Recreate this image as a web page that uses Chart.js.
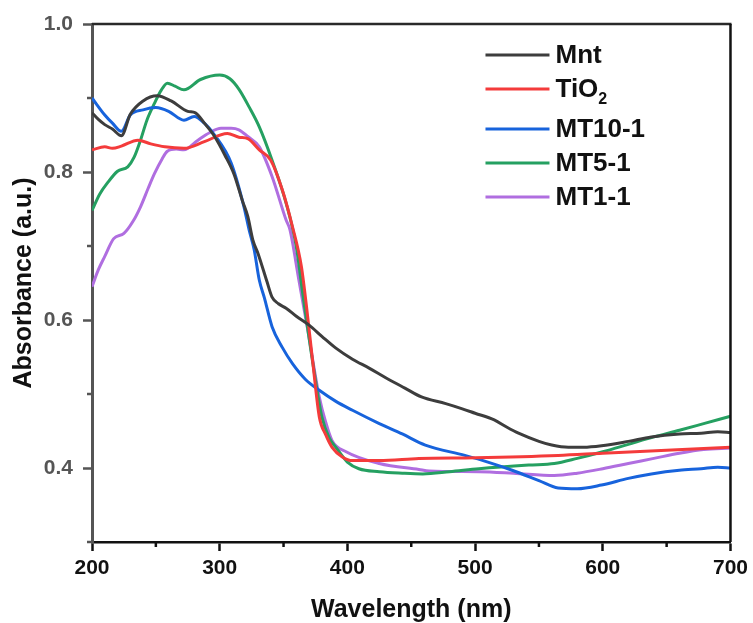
<!DOCTYPE html>
<html>
<head>
<meta charset="utf-8">
<script src="https://cdn.jsdelivr.net/npm/chart.js@4.4.1/dist/chart.umd.min.js"></script>
<style>
  html,body{margin:0;padding:0;background:#fff;}
  #wrap{width:753px;height:623px;}
</style>
</head>
<body>
<div id="wrap"><canvas id="uvChart" width="753" height="623"></canvas></div>
<script>
// ----------------- data -----------------
const seriesNames = ['Mnt', 'TiO₂', 'MT10-1', 'MT5-1', 'MT1-1'];
const seriesColors = ['#3d3d3d', '#f43b3b', '#1763dc', '#25a061', '#b06ee0'];

const xTicks = [200, 300, 400, 500, 600, 700];
const yTicks = [0.4, 0.6, 0.8, 1.0];
const xMinor = [250, 350, 450, 550, 650];
const yMinor = [0.3, 0.5, 0.7, 0.9];

const mntX = [200, 205, 210, 216, 223, 230, 240, 251, 262, 275, 281, 288, 296, 304, 311, 318, 322, 326, 330, 337, 341, 346, 352, 360, 370, 380, 391, 404, 417, 430, 445, 458, 477, 490, 500, 515, 525, 534, 550, 560, 573, 585, 599, 620, 638, 660, 677, 690, 700];
const mntY = [0.880, 0.871, 0.864, 0.858, 0.849, 0.878, 0.896, 0.903, 0.896, 0.882, 0.880, 0.866, 0.848, 0.823, 0.798, 0.760, 0.740, 0.708, 0.690, 0.652, 0.631, 0.622, 0.616, 0.605, 0.593, 0.578, 0.562, 0.547, 0.535, 0.522, 0.508, 0.496, 0.487, 0.480, 0.474, 0.465, 0.455, 0.447, 0.436, 0.431, 0.428, 0.428, 0.430, 0.436, 0.442, 0.446, 0.447, 0.449, 0.448];

const tioX = [200, 210, 216, 223, 236, 246, 257, 272, 288, 306, 315, 322, 331, 340, 349, 357, 364, 368, 373, 378, 383, 388, 396, 404, 425, 456, 500, 565, 600, 700];
const tioY = [0.830, 0.834, 0.832, 0.835, 0.843, 0.838, 0.834, 0.832, 0.841, 0.852, 0.847, 0.845, 0.830, 0.816, 0.776, 0.726, 0.672, 0.618, 0.541, 0.469, 0.445, 0.428, 0.415, 0.410, 0.410, 0.413, 0.414, 0.417, 0.420, 0.428];

const mt10X = [200, 210, 216, 223, 230, 240, 250, 260, 272, 280, 288, 296, 309, 319, 323, 327, 331, 335, 341, 349, 357, 367, 378, 391, 404, 425, 443, 461, 492, 510, 529, 550, 565, 580, 599, 620, 638, 660, 677, 690, 700];
const mt10Y = [0.900, 0.877, 0.866, 0.855, 0.877, 0.884, 0.887, 0.882, 0.870, 0.875, 0.866, 0.850, 0.812, 0.753, 0.722, 0.695, 0.654, 0.630, 0.591, 0.563, 0.541, 0.520, 0.505, 0.490, 0.478, 0.460, 0.446, 0.431, 0.417, 0.408, 0.397, 0.383, 0.373, 0.372, 0.377, 0.386, 0.392, 0.397, 0.399, 0.401, 0.400];

const mt5X = [200, 206, 212, 220, 228, 233, 238, 243, 249, 254, 259, 265, 272, 285, 300, 308, 315, 323, 331, 341, 352, 360, 365, 373, 380, 386, 391, 400, 409, 425, 443, 459, 480, 503, 542, 562, 580, 600, 620, 640, 660, 679, 700];
const mt5Y = [0.748, 0.770, 0.785, 0.801, 0.807, 0.820, 0.843, 0.870, 0.893, 0.910, 0.920, 0.916, 0.911, 0.925, 0.931, 0.926, 0.912, 0.888, 0.861, 0.816, 0.758, 0.699, 0.636, 0.541, 0.469, 0.440, 0.428, 0.408, 0.399, 0.395, 0.393, 0.392, 0.395, 0.399, 0.404, 0.406, 0.413, 0.422, 0.432, 0.442, 0.451, 0.460, 0.470];

const mt1X = [200, 205, 210, 217, 225, 232, 238, 244, 249, 255, 259, 266, 272, 283, 292, 301, 309, 315, 322, 331, 341, 352, 355, 362, 369, 378, 383, 388, 399, 425, 456, 464, 503, 530, 562, 580, 600, 620, 640, 660, 679, 700];
const mt1Y = [0.645, 0.668, 0.686, 0.710, 0.717, 0.733, 0.753, 0.778, 0.798, 0.818, 0.828, 0.831, 0.830, 0.843, 0.853, 0.859, 0.859, 0.857, 0.848, 0.834, 0.794, 0.735, 0.722, 0.654, 0.586, 0.496, 0.462, 0.437, 0.422, 0.406, 0.398, 0.396, 0.395, 0.393, 0.390, 0.393, 0.399, 0.406, 0.413, 0.420, 0.425, 0.427];

const allX = [mntX, tioX, mt10X, mt5X, mt1X];
const allY = [mntY, tioY, mt10Y, mt5Y, mt1Y];

const FONT = "'Liberation Sans', Arial, Helvetica, sans-serif";

function pairUp(xs, ys) {
  return xs.map((x, i) => ({x: x, y: ys[i]}));
}

// ----------------- plugins -----------------
// frame (top / right) + minor ticks
const framePlugin = {
  id: 'frame',
  afterDraw(chart) {
    const c = chart.ctx, a = chart.chartArea;
    const xs = chart.scales.x, ys = chart.scales.y;
    c.save();
    c.lineCap = 'butt';
    c.lineWidth = 2.5;
    c.strokeStyle = '#2a2a2a';
    c.beginPath();
    c.moveTo(a.left, a.top);
    c.lineTo(a.right + 1, a.top);
    c.stroke();
    c.strokeStyle = '#111';
    c.beginPath();
    c.moveTo(a.right, a.top);
    c.lineTo(a.right, a.bottom);
    c.stroke();

    c.lineWidth = 2.5;
    c.strokeStyle = '#111';
    xMinor.forEach(v => {
      const p = xs.getPixelForValue(v);
      c.beginPath();
      c.moveTo(p, a.bottom);
      c.lineTo(p, a.bottom + 5);
      c.stroke();
    });
    c.strokeStyle = '#555';
    yMinor.forEach(v => {
      const p = ys.getPixelForValue(v);
      c.beginPath();
      c.moveTo(a.left - 5, p);
      c.lineTo(a.left, p);
      c.stroke();
    });
    c.restore();
  }
};

// legend in the upper right of the plot
const legendPlugin = {
  id: 'innerLegend',
  afterDraw(chart) {
    const c = chart.ctx, a = chart.chartArea;
    const x0 = a.right - 245, x1 = a.right - 181, tx = a.right - 175;
    let y = a.top + 31;
    c.save();
    chart.data.datasets.forEach((ds, i) => {
      c.strokeStyle = ds.borderColor;
      c.lineWidth = 3.2;
      c.beginPath();
      c.moveTo(x0, y);
      c.lineTo(x1, y);
      c.stroke();

      c.fillStyle = '#111';
      c.textBaseline = 'middle';
      c.textAlign = 'left';
      c.font = 'bold 26px ' + FONT;
      const parts = ds.label.split('₂');
      c.fillText(parts[0], tx, y + 1);
      if (parts.length > 1) {
        const w = c.measureText(parts[0]).width;
        c.font = 'bold 16px ' + FONT;
        c.fillText('2', tx + w, y + 11);
      }
      y += (parts.length > 1) ? 40 : 34;
    });
    c.restore();
  }
};

// ----------------- chart -----------------
const ctx = document.getElementById('uvChart').getContext('2d');
const uvChart = new Chart(ctx, {
  type: 'line',
  data: {
    datasets: seriesNames.map((name, i) => ({
      label: name,
      data: pairUp(allX[i], allY[i]),
      borderColor: seriesColors[i],
      backgroundColor: seriesColors[i],
      borderWidth: 3,
      pointRadius: 0,
      cubicInterpolationMode: 'monotone',
      fill: false
    }))
  },
  options: {
    responsive: false,
    animation: false,
    devicePixelRatio: 1,
    layout: {padding: {top: 24, right: 20, left: 0, bottom: 0}},
    plugins: {legend: {display: false}, tooltip: {enabled: false}},
    scales: {
      x: {
        type: 'linear',
        min: 200,
        max: 700,
        afterBuildTicks: s => { s.ticks = xTicks.map(v => ({value: v})); },
        afterFit: s => { s.height = 81; },
        grid: {drawOnChartArea: false, drawTicks: true, tickLength: 9, tickWidth: 2.5, tickColor: '#111'},
        border: {color: '#111', width: 2.5},
        ticks: {color: '#111', font: {family: FONT, size: 21, weight: 'bold'}, padding: 5, maxRotation: 0},
        title: {display: true, text: 'Wavelength (nm)', color: '#111', font: {family: FONT, size: 25, weight: 'bold', lineHeight: 1.0}, padding: {top: 0, bottom: 0}}
      },
      y: {
        min: 0.3,
        max: 1.0,
        afterBuildTicks: s => { s.ticks = yTicks.map(v => ({value: v})); },
        afterFit: s => { s.width = 92; },
        grid: {drawOnChartArea: false, drawTicks: true, tickLength: 9, tickWidth: 2.5, tickColor: '#555'},
        border: {color: '#555', width: 3},
        ticks: {color: '#555', font: {family: FONT, size: 21, weight: 'bold'}, padding: 10, callback: v => v.toFixed(1)},
        title: {display: true, text: 'Absorbance (a.u.)', color: '#111', font: {family: FONT, size: 25, weight: 'bold', lineHeight: 1.0}, padding: {top: 12, bottom: 0}}
      }
    }
  },
  plugins: [framePlugin, legendPlugin]
});
</script>
</body>
</html>
